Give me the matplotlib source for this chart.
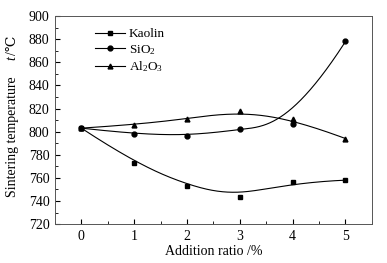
import numpy as np
import matplotlib
matplotlib.use("Agg")
import matplotlib.pyplot as plt
from matplotlib.ticker import MultipleLocator

plt.rcParams['font.family'] = ['Liberation Serif', 'DejaVu Serif']
plt.rcParams['mathtext.fontset'] = 'custom'
plt.rcParams['mathtext.it'] = 'Liberation Serif:italic'
plt.rcParams['mathtext.rm'] = 'Liberation Serif'

# data
ratio = [0, 1, 2, 3, 4, 5]
kaolin = [803, 773, 753, 743, 756, 758]
sio2 = [803, 798, 796, 802, 807, 878]
al2o3 = [803, 806, 811, 818, 811, 794]


def bspline(px, py, k=3, num=300):
    # clamped cubic B-spline using the data points as control points
    n = len(px)
    knots = np.concatenate([np.zeros(k), np.linspace(0, 1, n - k + 1), np.ones(k)])
    t = np.linspace(0, 1, num)
    t[-1] -= 1e-9
    N = np.array([(knots[i] <= t) & (t < knots[i + 1]) for i in range(len(knots) - 1)], float)
    for d in range(1, k + 1):
        new = np.zeros((len(knots) - 1 - d, num))
        for i in range(len(knots) - 1 - d):
            a = knots[i + d] - knots[i]
            b = knots[i + d + 1] - knots[i + 1]
            if a > 0:
                new[i] += (t - knots[i]) / a * N[i]
            if b > 0:
                new[i] += (knots[i + d + 1] - t) / b * N[i + 1]
        N = new
    return N.T @ np.asarray(px, float), N.T @ np.asarray(py, float)


fig = plt.figure(figsize=(3.87, 2.63), dpi=100)
ax = fig.add_axes([0.142, 0.148, 0.819, 0.791])

series = [
    (kaolin, 's', 'Kaolin'),
    (sio2, 'o', 'SiO$_2$'),
    (al2o3, '^', 'Al$_2$O$_3$'),
]
for vals, mk, lab in series:
    cx, cy = bspline(ratio, vals)
    ax.plot(cx, cy, color='black', linewidth=0.8)
    ax.plot(ratio, vals, linestyle='none', marker=mk, color='black', markersize=3.5)
    # legend proxy
    ax.plot([], [], color='black', linewidth=0.8, marker=mk, markersize=3.5, label=lab)

ax.set_xlim(-0.5, 5.5)
ax.set_ylim(720, 900)
ax.xaxis.set_major_locator(MultipleLocator(1))
ax.xaxis.set_minor_locator(MultipleLocator(0.5))
ax.yaxis.set_major_locator(MultipleLocator(20))
ax.yaxis.set_minor_locator(MultipleLocator(10))
ax.tick_params(which='both', direction='in', top=False, right=False, labelsize=10)
ax.tick_params(which='major', length=3.5, pad=4)
ax.tick_params(which='minor', length=2)
for sp in ax.spines.values():
    sp.set_color('#555555')
    sp.set_linewidth(0.7)

ax.set_xlabel('Addition ratio /%', fontsize=10, labelpad=2)
# y label in two pieces: plain text and italic symbol with unit
ax.text(-0.135, 0.42, 'Sintering temperature', transform=ax.transAxes, rotation=90,
        ha='center', va='center', fontsize=10)
ax.text(-0.135, 0.86, '/\u2103', transform=ax.transAxes, rotation=90,
        ha='center', va='center', fontsize=10)
ax.text(-0.135, 0.80, 't', transform=ax.transAxes, rotation=90,
        ha='center', va='center', fontsize=10, style='italic')

ax.legend(loc='upper left', bbox_to_anchor=(0.088, 1.0), frameon=False, fontsize=9.5,
          handlelength=2.3, handletextpad=0.3, labelspacing=0.2)

fig.savefig('out.png', dpi=100)
